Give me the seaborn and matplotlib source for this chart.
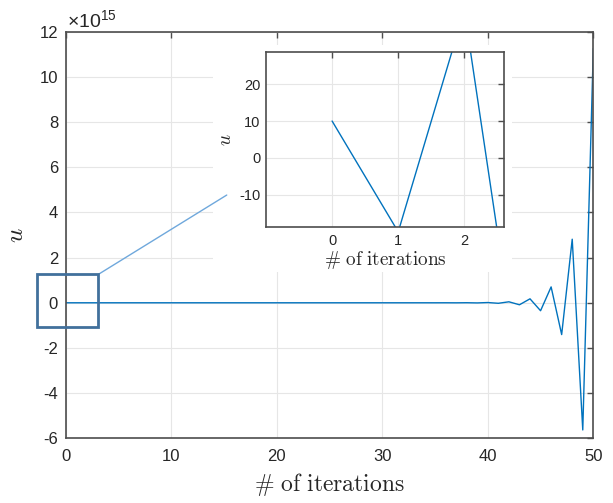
"""Divergent iteration u_n with a zoomed inset of the first steps."""

import matplotlib

matplotlib.use("Agg")
import matplotlib.pyplot as plt
import numpy as np
import pandas as pd
import seaborn as sns
from matplotlib.patches import Rectangle

# values (u doubles in size and flips sign each step)
iterations = list(range(51))
u_values = [
    10, -20, 40, -80, 160, -320, 640, -1280, 2560, -5120,
    10240, -20480, 40960, -81920, 163840, -327680, 655360, -1310720,
    2621440, -5242880, 10485760, -20971520, 41943040, -83886080,
    167772160, -335544320, 671088640, -1342177280, 2684354560,
    -5368709120, 10737418240, -21474836480, 42949672960, -85899345920,
    171798691840, -343597383680, 687194767360, -1374389534720,
    2748779069440, -5497558138880, 10995116277760, -21990232555520,
    43980465111040, -87960930222080, 175921860444160, -351843720888320,
    703687441776640, -1407374883553280, 2814749767106560,
    -5629499534213120, 11258999068426240,
]
main_yticks = [-6, -4, -2, 0, 2, 4, 6, 8, 10, 12]
main_xticks = [0, 10, 20, 30, 40, 50]
inset_xticks = [0, 1, 2]
inset_yticks = [-10, 0, 10, 20]

LINE = "#0072BD"
AXC = "#4d4d4d"
TXT = "#262626"
SCALE = 1e15

sns.set_style("white")
plt.rcParams["font.family"] = ["Liberation Sans", "DejaVu Sans"]
plt.rcParams["mathtext.fontset"] = "cm"
plt.rcParams["axes.unicode_minus"] = False

df = pd.DataFrame({"n": iterations, "u": u_values})
df["u_scaled"] = df["u"] / SCALE

fig = plt.figure(figsize=(6.13, 5.03), dpi=100)
ax = fig.add_axes([0.1072, 0.1286, 0.8607, 0.8083])
sns.lineplot(data=df, x="n", y="u_scaled", ax=ax, color=LINE, lw=1.0, zorder=2)


def style_axes(a, size, xpad, ypad):
    a.grid(True, color="#e6e6e6", lw=0.8)
    a.set_axisbelow(True)
    for sp in a.spines.values():
        sp.set_color(AXC)
        sp.set_linewidth(1.2)
        sp.set_visible(True)
    a.tick_params(direction="in", top=True, right=True, length=4,
                  width=1.0, color=AXC, labelsize=size, labelcolor=TXT)
    a.tick_params(axis="x", pad=xpad)
    a.tick_params(axis="y", pad=ypad)


style_axes(ax, 12, 8, 5.5)
ax.set_xlim(0, 50)
ax.set_ylim(-6, 12)
ax.set_xticks(main_xticks)
ax.set_yticks(main_yticks)
ax.set_xlabel(r"$\#\ \mathrm{of\ iterations}$", fontsize=17, color=TXT, labelpad=5)
ax.set_ylabel(r"$u$", fontsize=18, color=TXT, labelpad=8)
ax.text(0.003, 1.002, r"$\mathregular{\times10^{15}}$", transform=ax.transAxes,
        fontsize=14, color=TXT, ha="left", va="bottom")

# white background of the inset region hides the main grid
ax.add_patch(Rectangle((0.279, 0.409), 0.567, 0.558, transform=ax.transAxes,
                       facecolor="white", edgecolor="none", zorder=1))

# zoom box and connector
ax.add_patch(Rectangle((-2.75, -1.06), 5.85, 2.32, fill=False,
                       edgecolor="#41709c", lw=2.0, clip_on=False, zorder=4))
ax.plot([3.1, 15.26], [1.26, 4.77], color="#6fa8dc", lw=1.0,
        clip_on=False, zorder=3)

# inset
ins = fig.add_axes([0.4339, 0.5493, 0.3883, 0.3467])
sns.lineplot(data=df, x="n", y="u", ax=ins, color=LINE, lw=1.0)
style_axes(ins, 10.5, 5, 4)
ins.set_xlim(-1, 2.6)
ins.set_ylim(-18.6, 28.6)
ins.set_xticks(inset_xticks)
ins.set_yticks(inset_yticks)
ins.set_xlabel(r"$\#\ \mathrm{of\ iterations}$", fontsize=13.8, color=TXT, labelpad=1)
ins.set_ylabel(r"$u$", fontsize=14, color=TXT, labelpad=3)

fig.savefig("out.png", dpi=100)
